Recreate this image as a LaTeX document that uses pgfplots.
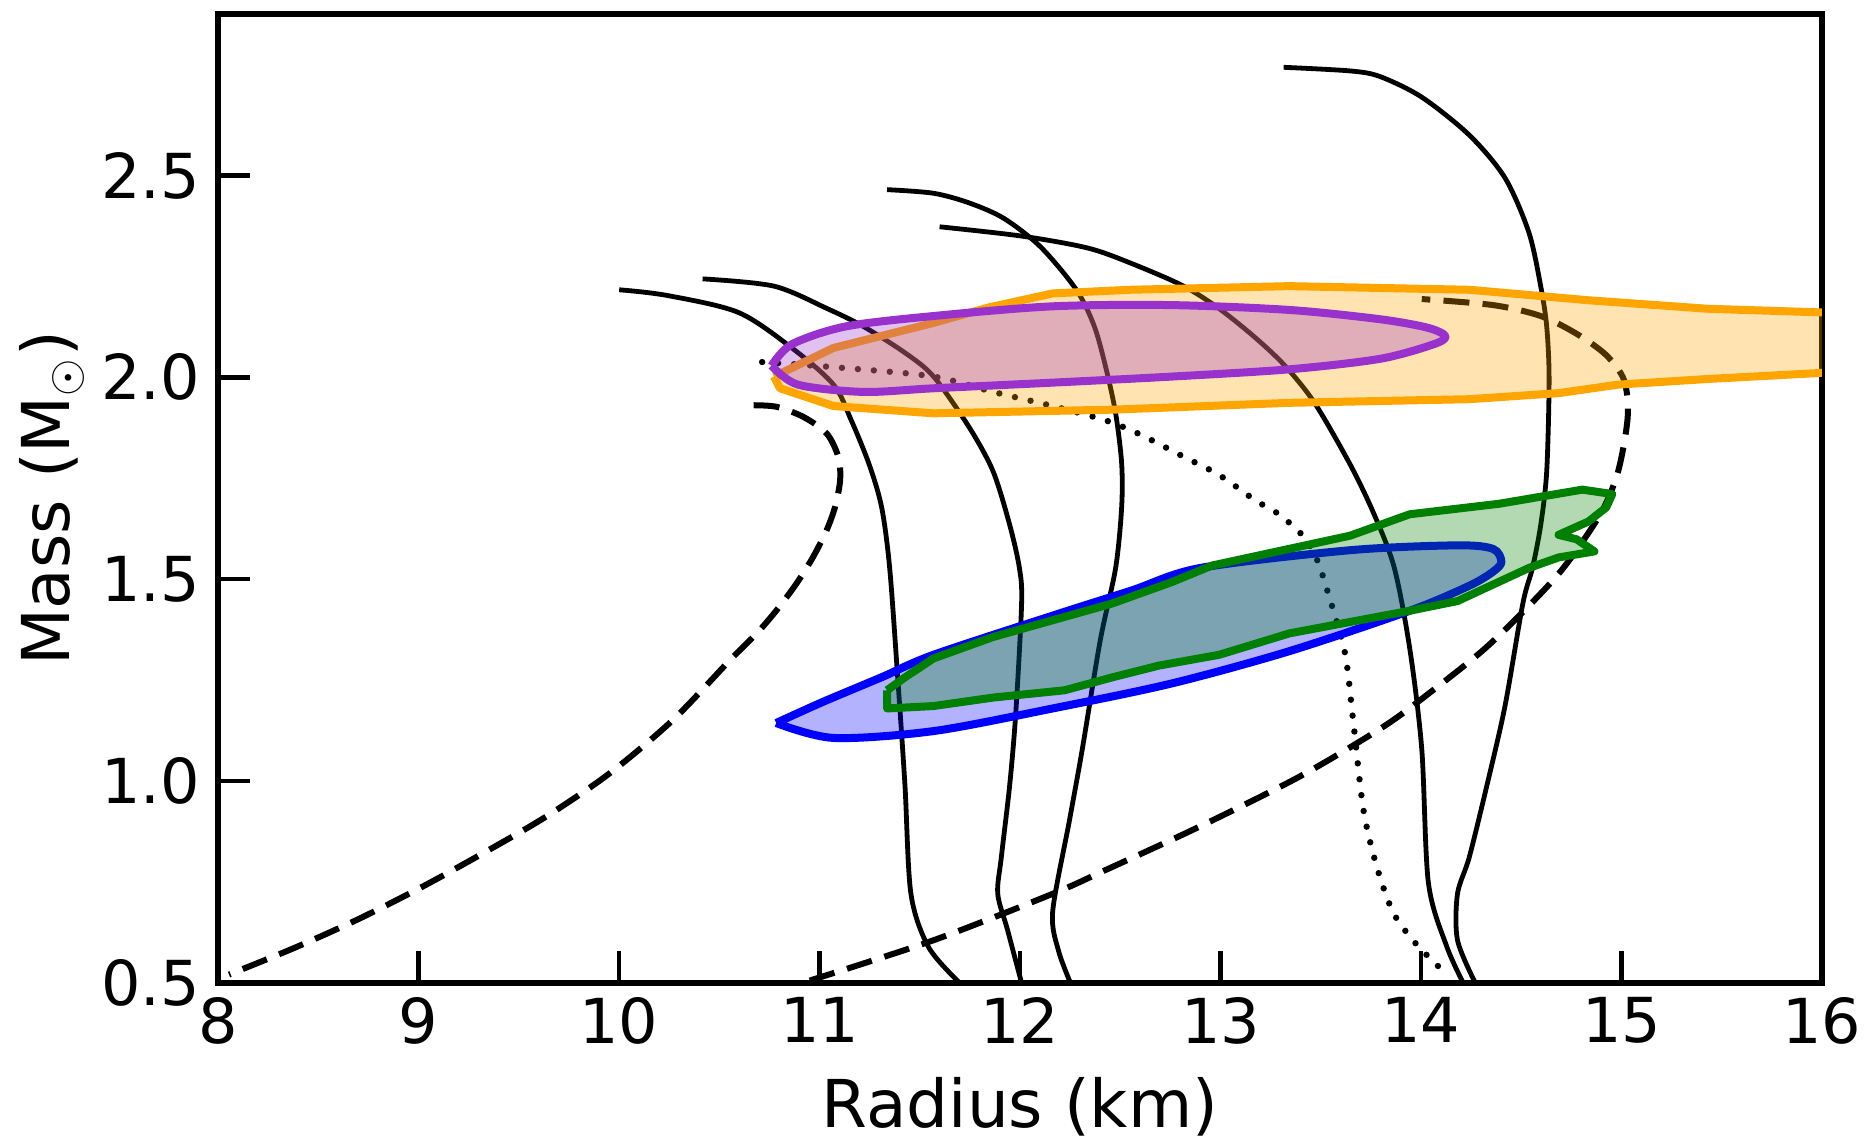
\documentclass[border=0pt]{standalone}
\usepackage{fontspec}
\setmainfont{DejaVu Sans}
\usepackage{pgfplots}
\pgfplotsset{compat=1.18}
\usetikzlibrary{calc}

\definecolor{cor}{HTML}{FFA500}
\definecolor{cpu}{HTML}{9932CC}
\definecolor{cbl}{HTML}{0000FF}
\definecolor{cgr}{HTML}{008000}

\begin{document}
\begin{tikzpicture}
\begin{axis}[
  name=ax,
  scale only axis,
  width=401pt, height=242.25pt,
  xmin=8, xmax=16, ymin=0.5, ymax=2.9,
  xtick={8,9,...,16},
  ytick={0.5,1.0,1.5,2.0,2.5},
  tick pos=left,
  tick align=inside,
  major tick length=8pt,
  major tick style={line width=1.1pt, black},
  axis line style={line width=1.3pt},
  /pgf/number format/assume math mode=true,
  tick label style={font=\fontsize{15.5}{18}\selectfont},
  yticklabel style={/pgf/number format/fixed, /pgf/number format/precision=1,
    /pgf/number format/fixed zerofill, xshift=-1pt},
  xlabel={Radius (km)},
  ylabel={Mass (M$_\odot$)},
  label style={font=\fontsize{16.5}{19}\selectfont},
  xlabel style={at={(axis description cs:0.5,0)}, anchor=base, yshift=-36pt},
  ylabel style={at={(axis description cs:0,0.5)}, anchor=base, yshift=37pt},
  every axis plot/.append style={mark=none},
  eos/.style={black, line width=1.2pt, smooth, tension=0.5},
  dsh/.style={black, line width=1.5pt, smooth, tension=0.5, dash pattern=on 6.5pt off 3.3pt},
  cont/.style={line width=2pt, line join=round, fill opacity=0.3},
]
% mass-radius curves (drawn first, under the contours)
\addplot[eos] coordinates {
(10.001,2.217) (10.239,2.203) (10.595,2.161) (10.862,2.073) (11.070,1.982)
(11.159,1.893) (11.248,1.784) (11.310,1.678) (11.350,1.528) (11.390,1.257)
(11.426,0.992) (11.456,0.721) (11.545,0.588) (11.700,0.500)};
\addplot[eos] coordinates {
(10.417,2.244) (10.773,2.226) (11.040,2.170) (11.219,2.126) (11.426,2.061)
(11.569,2.002) (11.747,1.876) (11.866,1.767) (11.949,1.634) (11.997,1.528)
(12.008,1.440) (11.979,1.169) (11.949,0.992) (11.907,0.812) (11.889,0.721)
(11.937,0.633) (12.008,0.500)};
\addplot[eos] coordinates {
(11.337,2.465) (11.569,2.456) (11.747,2.432) (11.919,2.394) (12.103,2.323)
(12.281,2.217) (12.371,2.126) (12.430,2.020) (12.477,1.911) (12.507,1.787)
(12.507,1.678) (12.477,1.528) (12.400,1.348) (12.311,1.080) (12.246,0.901)
(12.163,0.677) (12.192,0.580) (12.252,0.500)};
\addplot[eos] coordinates {
(11.599,2.373) (12.008,2.350) (12.341,2.320) (12.572,2.279) (12.816,2.226)
(12.994,2.170) (13.172,2.099) (13.321,2.029) (13.469,1.937) (13.647,1.784)
(13.766,1.661) (13.867,1.528) (13.945,1.325) (14.004,1.078) (14.037,0.748)
(14.128,0.591) (14.211,0.500)};
\addplot[eos] coordinates {
(13.315,2.768) (13.647,2.759) (13.796,2.745) (14.004,2.694) (14.241,2.600)
(14.419,2.494) (14.538,2.359) (14.597,2.226) (14.627,2.126) (14.639,1.993)
(14.627,1.767) (14.597,1.634) (14.556,1.528) (14.508,1.440) (14.419,1.186)
(14.330,0.992) (14.241,0.812) (14.182,0.721) (14.182,0.606) (14.271,0.500)};
% dotted curve
\addplot[black, line width=1.6pt, line cap=round, smooth, tension=0.5, dash pattern=on 0pt off 4pt] coordinates {
(10.714,2.038) (11.130,2.023) (11.569,2.002) (11.866,1.964) (12.163,1.929)
(12.430,1.893) (12.602,1.858) (12.810,1.805) (12.994,1.758) (13.172,1.696)
(13.291,1.661) (13.410,1.608) (13.481,1.549) (13.540,1.460) (13.621,1.317)
(13.663,1.144) (13.713,0.929) (13.779,0.789) (13.862,0.674) (13.970,0.600)
(14.087,0.541)};
% dashed curves
\addplot[dsh] coordinates {
(10.671,1.931) (10.787,1.927) (10.920,1.902) (11.036,1.861) (11.094,1.803)
(11.103,1.746) (11.078,1.680) (11.036,1.622) (10.969,1.556) (10.886,1.490)
(10.787,1.424) (10.687,1.366) (10.554,1.300) (10.270,1.152) (9.955,1.020)
(9.639,0.913) (9.324,0.822) (9.010,0.736) (8.695,0.657) (8.381,0.587)
(8.055,0.521)};
\addplot[dsh] coordinates {
(10.951,0.506) (11.569,0.606) (12.163,0.721) (12.432,0.781) (12.898,0.888)
(13.397,1.012) (13.813,1.135) (14.062,1.226) (14.311,1.325) (14.520,1.425)
(14.710,1.528) (14.894,1.661) (14.983,1.767) (15.031,1.902) (15.013,1.993)
(14.924,2.055) (14.776,2.108) (14.597,2.152) (14.360,2.179) (14.004,2.194)};
% orange contour
\addplot[cont, draw=cor, fill=cor] coordinates {
(10.773,2.002) (11.070,2.073) (11.569,2.135) (11.842,2.173) (12.163,2.208)
(12.549,2.217) (13.344,2.226) (14.241,2.217) (14.835,2.191) (15.429,2.170)
(15.993,2.161) (16.300,2.158) (16.300,2.013) (15.993,2.011) (15.429,1.996)
(14.983,1.982) (14.686,1.961) (14.241,1.946) (13.344,1.937) (12.460,1.920)
(11.569,1.911) (11.070,1.929) (10.803,1.973) (10.773,2.002)};
% purple contour
\addplot[cont, draw=cpu, fill=cpu, smooth, tension=0.5] coordinates {
(10.761,2.029) (10.862,2.082) (11.129,2.126) (11.569,2.152) (12.163,2.176)
(12.757,2.179) (13.344,2.167) (13.796,2.144) (14.033,2.123) (14.122,2.102)
(14.063,2.082) (13.796,2.046) (13.344,2.020) (12.757,2.002) (12.163,1.987)
(11.569,1.973) (11.219,1.964) (10.892,1.982) (10.761,2.029)};
% blue contour
\addplot[cont, draw=cbl, fill=cbl, smooth, tension=0.5] coordinates {
(10.784,1.144) (11.070,1.107) (11.569,1.124) (12.163,1.180) (12.757,1.242)
(13.344,1.322) (13.944,1.422) (14.241,1.484) (14.360,1.519) (14.401,1.543)
(14.360,1.575) (14.182,1.584) (13.647,1.572) (12.899,1.528) (12.555,1.472)
(12.163,1.410) (11.569,1.313) (11.308,1.257) (11.011,1.195) (10.784,1.144)};
% green contour
\addplot[cont, draw=cgr, fill=cgr] coordinates {
(11.337,1.225) (11.337,1.180) (11.569,1.186) (11.866,1.207) (12.222,1.225)
(12.460,1.257) (12.691,1.286) (12.994,1.313) (13.344,1.366) (13.944,1.422)
(14.182,1.446) (14.538,1.528) (14.686,1.554) (14.865,1.569) (14.776,1.599)
(14.686,1.610) (14.835,1.643) (14.924,1.678) (14.954,1.711) (14.805,1.722)
(14.390,1.687) (13.944,1.661) (13.647,1.608) (12.958,1.534) (12.757,1.493)
(12.460,1.440) (11.866,1.357) (11.569,1.304) (11.426,1.257) (11.337,1.225)};
\end{axis}
\pgfresetboundingbox
\path[use as bounding box] ($(ax.south west)+(-54.5pt,-38.5pt)$) rectangle ($(ax.north east)+(11.25pt,3.5pt)$);
\end{tikzpicture}
\end{document}
